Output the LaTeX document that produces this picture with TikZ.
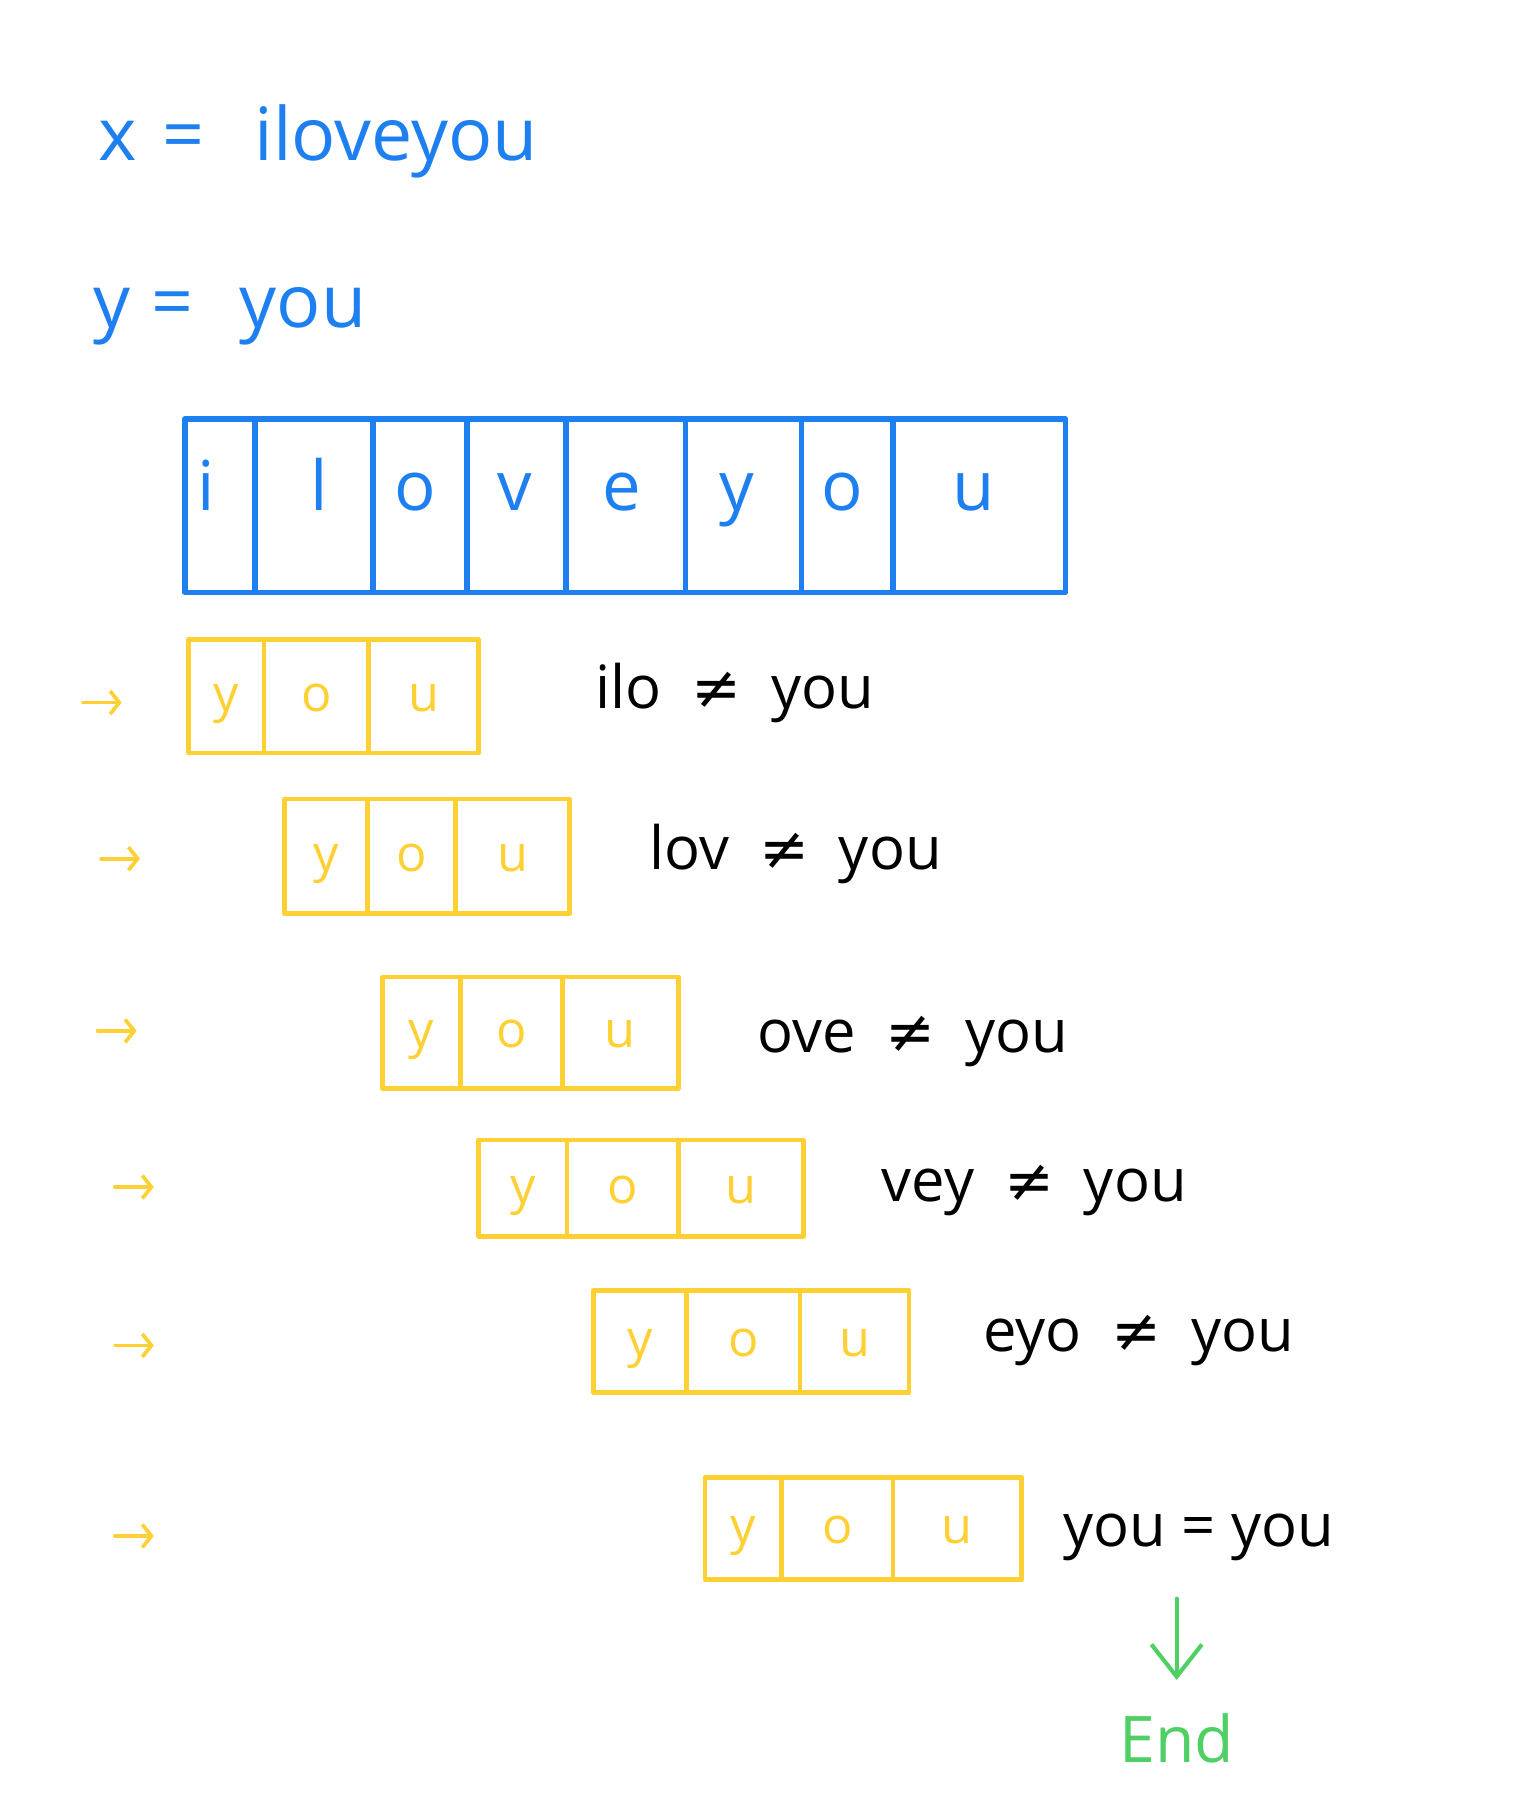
\documentclass[tikz,border=0pt]{standalone}
\usepackage{fontspec}
\setmainfont{Open Sans}
\newfontfamily\symfont{DejaVu Sans}
\usetikzlibrary{arrows.meta}
\definecolor{penblue}{RGB}{30,128,240}
\definecolor{penyellow}{RGB}{255,208,52}
\definecolor{pengreen}{RGB}{80,208,100}
\newcommand\nq{{\symfont ≠}}
\begin{document}
\begin{tikzpicture}[x=0.5pt,y=-0.5pt,line join=round,line cap=round,
	bluebox/.style={draw=penblue,line width=2.4pt},
	yelbox/.style={draw=penyellow,line width=2pt},
	bluelet/.style={text=penblue,anchor=base,font=\fontsize{30}{30}\selectfont},
	yellet/.style={text=penyellow,anchor=base,font=\fontsize{22}{22}\selectfont},
	note/.style={anchor=base,font=\fontsize{26}{26}\selectfont},
	ptr/.style={draw=penyellow,line width=1.6pt,-{Straight Barb[length=4pt,width=10pt]}},
	grn/.style={draw=pengreen,line width=1.8pt,-{Straight Barb[length=14pt,width=22pt]},shorten <=13pt,shorten >=11pt}]
	\useasboundingbox (0,0) rectangle (1338,1568);
	% the two strings
	\node[bluelet,font=\fontsize{32}{32}\selectfont] (xv) at (103,140) {x};
	\node[bluelet,font=\fontsize{32}{32}\selectfont] (xeq) at (160,140) {=};
	\node[bluelet,font=\fontsize{32}{32}\selectfont] (xs) at (345,140) {iloveyou};
	\node[bluelet,font=\fontsize{32}{32}\selectfont] (yv) at (98,285) {y};
	\node[bluelet,font=\fontsize{32}{32}\selectfont] (yeq) at (150,285) {=};
	\node[bluelet,font=\fontsize{32}{32}\selectfont] (ys) at (264,285) {you};
	% text x in cells
	\draw[bluebox] (161,365) rectangle (928,516);
	\foreach \d in {222,325,407,493,597,698,778}
		\draw[bluebox] (\d,367)--(\d,514);
	\foreach \c/\x [count=\k] in {i/180,l/278,o/362,v/448,e/542,y/642,o/734,u/848}
		\node[bluelet] (b\k) at (\x,445) {\c};
	% window y sliding over x
	\foreach \xl/\xr/\yt/\yb/\da/\db/\ax/\ay/\tx/\ty/\txt [count=\k] in {
		164/417/557/656/230/321/72/612/640/617/{ilo\enspace\nq\enspace you},
		248/496/696/796/320/397/88/748/693/757/{lov\enspace\nq\enspace you},
		333/591/851/948/401/490/85/898/795/917/{ove\enspace\nq\enspace you},
		417/700/993/1077/494/591/100/1034/901/1047/{vey\enspace\nq\enspace you},
		517/792/1124/1213/598/697/100/1172/992/1177/{eyo\enspace\nq\enspace you},
		614/890/1287/1376/681/778/100/1338/1044/1347/{you = you}}{
		\pgfmathsetmacro\yc{(\yt+\yb)/2+13}
		\pgfmathsetmacro\ca{(\xl+\da)/2}
		\pgfmathsetmacro\cb{(\da+\db)/2}
		\pgfmathsetmacro\cc{(\db+\xr)/2}
		\draw[yelbox] (\xl,\yt) rectangle (\xr,\yb);
		\draw[yelbox] (\da,\yt)--(\da,\yb) (\db,\yt)--(\db,\yb);
		\node[yellet] (ya\k) at (\ca,\yc) {y};
		\node[yellet] (yb\k) at (\cb,\yc) {o};
		\node[yellet] (yc\k) at (\cc,\yc) {u};
		\coordinate (p\k) at (\ax,\ay);
		\draw[ptr] (p\k) -- ++(34,0);
		\node[note] (t\k) at (\tx,\ty) {\txt};
	}
	\node[text=pengreen,anchor=base,font=\fontsize{28}{28}\selectfont] (fin) at (1025,1535) {End};
	\draw[grn] (fin.north |- t6.south) -- (fin.north);
\end{tikzpicture}
\end{document}
